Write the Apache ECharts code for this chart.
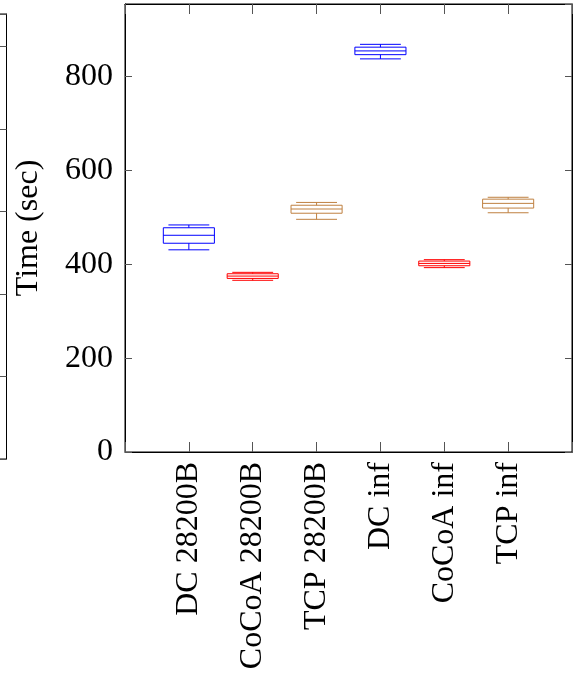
<!DOCTYPE html>
<html>
<head>
<meta charset="utf-8">
<script src="https://cdn.jsdelivr.net/npm/echarts@6/dist/echarts.min.js"></script>
<style>
  html, body { margin: 0; padding: 0; background: #fff; }
  #chart { width: 574px; height: 675px; }
</style>
</head>
<body>
<div id="chart"></div>
<script>
// Run configurations along the x axis
const categories = ['DC 28200B', 'CoCoA 28200B', 'TCP 28200B', 'DC inf', 'CoCoA inf', 'TCP inf'];
// Five-number summaries of completion time (sec)
const lowerWhisker  = [431, 366, 496, 838, 393, 510];
const lowerQuartile = [445, 370, 509, 847, 397, 520];
const medians       = [462, 375, 518, 855, 402, 530];
const upperQuartile = [478, 380, 526, 863, 407, 539];
const upperWhisker  = [484, 383, 532, 869, 410, 543];
const boxColors = ['#0000ff', '#ff0000', '#bf8040', '#0000ff', '#ff0000', '#bf8040'];
const yTicks = [0, 200, 400, 600, 800];

const FONT = '"Liberation Serif", "DejaVu Serif", serif';

const boxData = categories.map((c, i) => [
  i + 1, lowerWhisker[i], lowerQuartile[i], medians[i], upperQuartile[i], upperWhisker[i]
]);

function renderBox(params, api) {
  const x = api.value(0);
  const unit = api.size([1, 0])[0];
  const bh = unit * 0.4;   // half box width
  const wh = unit * 0.32;  // half whisker width
  const pLw = api.coord([x, api.value(1)]);
  const pQ1 = api.coord([x, api.value(2)]);
  const pMd = api.coord([x, api.value(3)]);
  const pQ3 = api.coord([x, api.value(4)]);
  const pUw = api.coord([x, api.value(5)]);
  const cx = pMd[0];
  const style = { stroke: boxColors[params.dataIndex], lineWidth: 1, fill: null };
  const line = (x1, y1, x2, y2) => ({ type: 'line', shape: { x1, y1, x2, y2 }, style });
  return {
    type: 'group',
    children: [
      { type: 'rect', shape: { x: cx - bh, y: pQ3[1], width: 2 * bh, height: pQ1[1] - pQ3[1] }, style },
      line(cx - bh, pMd[1], cx + bh, pMd[1]),
      line(cx, pQ3[1], cx, pUw[1]),
      line(cx, pQ1[1], cx, pLw[1]),
      line(cx - wh, pUw[1], cx + wh, pUw[1]),
      line(cx - wh, pLw[1], cx + wh, pLw[1])
    ]
  };
}

const chart = echarts.init(document.getElementById('chart'), null, { renderer: 'canvas' });

const axisLineStyle = { show: true, onZero: false, lineStyle: { color: '#000', width: 1 } };
const tickStyle = { color: '#555', width: 1 };

chart.setOption({
  animation: false,
  backgroundColor: '#fff',
  grid: [
    { left: 125, top: 4, width: 447, height: 448, show: true, borderColor: '#000', borderWidth: 1,
      outerBoundsMode: 'none' },
    // right edge of the neighbouring panel
    { left: -300, width: 306.5, top: 14, height: 445, show: true, borderColor: '#000', borderWidth: 1,
      outerBoundsMode: 'none' }
  ],
  xAxis: [
    {
      type: 'value', gridIndex: 0, min: 0, max: 7, interval: 1, position: 'bottom',
      axisLine: axisLineStyle,
      axisTick: { show: true, inside: true, length: 10, lineStyle: tickStyle },
      splitLine: { show: false },
      axisLabel: {
        rotate: 90, margin: 10, fontFamily: FONT, fontSize: 32, color: '#000',
        formatter: v => (v >= 1 && v <= categories.length && Number.isInteger(v)) ? categories[v - 1] : ''
      }
    },
    {
      type: 'value', gridIndex: 0, min: 0, max: 7, interval: 1, position: 'top',
      axisLine: axisLineStyle,
      axisTick: { show: true, inside: true, length: 10, lineStyle: tickStyle },
      splitLine: { show: false }, axisLabel: { show: false }
    },
    {
      type: 'value', gridIndex: 1, min: 0, max: 1, show: false
    }
  ],
  yAxis: [
    {
      type: 'value', gridIndex: 0, min: 0, max: 955, interval: 200, position: 'left',
      name: 'Time (sec)', nameLocation: 'middle', nameGap: 80,
      nameTextStyle: { fontFamily: FONT, fontSize: 32, color: '#000' },
      axisLine: axisLineStyle,
      axisTick: { show: true, inside: true, length: 7, lineStyle: tickStyle },
      splitLine: { show: false },
      axisLabel: {
        margin: 12, fontFamily: FONT, fontSize: 32, color: '#000', showMaxLabel: false,
        formatter: v => yTicks.includes(v) ? String(v) : ''
      }
    },
    {
      type: 'value', gridIndex: 0, min: 0, max: 955, interval: 200, position: 'right',
      axisLine: axisLineStyle,
      axisTick: { show: true, inside: true, length: 7, lineStyle: tickStyle },
      splitLine: { show: false }, axisLabel: { show: false }
    },
    {
      type: 'value', gridIndex: 1, min: 0, max: 5.39, interval: 1, position: 'right',
      axisLine: axisLineStyle,
      axisTick: { show: true, inside: true, length: 7, lineStyle: tickStyle },
      splitLine: { show: false }, axisLabel: { show: false }
    }
  ],
  series: [
    {
      type: 'custom',
      xAxisIndex: 0, yAxisIndex: 0,
      renderItem: renderBox,
      encode: { x: 0, y: [1, 2, 3, 4, 5] },
      data: boxData,
      z: 10
    }
  ]
});
</script>
</body>
</html>
